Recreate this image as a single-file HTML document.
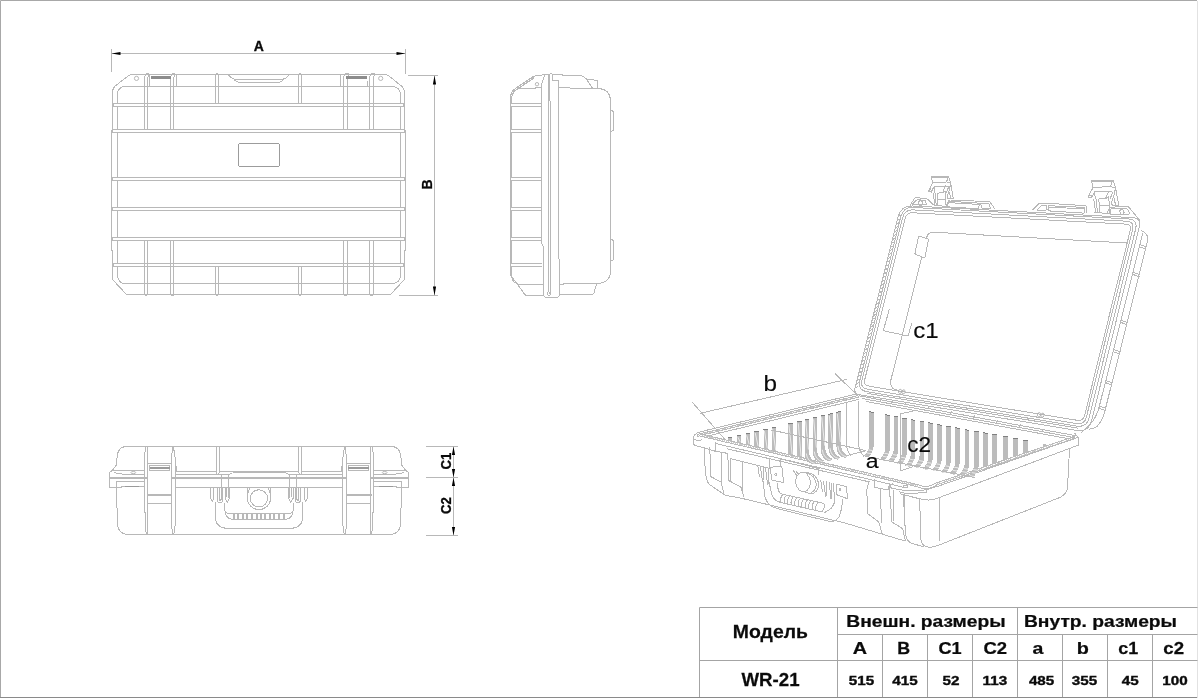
<!DOCTYPE html>
<html><head><meta charset="utf-8"><title>WR-21</title>
<style>
html,body{margin:0;padding:0;background:#fff;}
body{width:1200px;height:698px;overflow:hidden;position:relative;font-family:"Liberation Sans",sans-serif;}
svg{position:absolute;left:0;top:0;will-change:transform;}
svg text{font-family:"Liberation Sans",sans-serif;}
.l{fill:none;stroke:#b8b8b8;stroke-width:1;shape-rendering:crispEdges;}
.d{fill:none;stroke:#b8b8b8;stroke-width:1;shape-rendering:crispEdges;}
.a{fill:#000;stroke:none;}
.r{fill:#bcbcbc;stroke:none;shape-rendering:crispEdges;}
.w{fill:#fff;stroke:#b8b8b8;stroke-width:1;shape-rendering:crispEdges;}
.tb{stroke:#a4a4a4;stroke-width:1;fill:none;}
.t{font-weight:bold;fill:#0a0a0a;}
.d2{fill:none;stroke:#b8b8b8;stroke-width:1;shape-rendering:crispEdges;}
.tt{fill:#0a0a0a;stroke:#0a0a0a;stroke-width:0.15;}
.l2{fill:none;stroke:#b0b0b0;stroke-width:0.9;}
.rl{fill:none;stroke:#b8b8b8;stroke-width:1;shape-rendering:crispEdges;}
.ws{fill:none;stroke:#fff;stroke-width:0.7;}
.cap{fill:none;stroke:#808080;stroke-width:1;shape-rendering:crispEdges;}
.h{fill:none;stroke:#cacaca;stroke-width:1;shape-rendering:crispEdges;}
</style></head><body>
<svg width="1200" height="698" viewBox="0 0 1200 698">
<!-- frame -->
<path d="M0.5 698V0.5H1197" fill="none" stroke="#a8a8a8" stroke-width="1"/>
<path d="M0 697.5H1198" fill="none" stroke="#8a8a8a" stroke-width="1"/>
<path d="M1197.5 1V698" fill="none" stroke="#e2e2e2" stroke-width="1"/>

<!-- top view -->
<path class="l" d="M112.5 93.5 Q112.5 89 114.5 86.5 L128 76 Q130 74.5 132 74.5 H385 Q387 74.5 389 76 L402 86.5 Q404.5 89 404.5 93.5 V130 L405.5 131 V250 L404.5 251 V279.5 L390.5 294.5 H162 L161 294.5 H126.5 L112.5 279.5 V251 L111.5 250 V131 L112.5 130 Z"/>
<path class="l" d="M117.5 103.5 V95 Q117.5 86.5 125.5 86.5 H391.5 Q400.5 86.5 400.5 95 V103.5"/>
<path class="l" d="M117.5 266.5 V274 Q117.5 283.5 125 283.5 H392 Q400.5 283.5 400.5 274 V266.5"/>
<path class="l" d="M117.5 106.5V129.5M400.5 106.5V129.5"/>
<path class="l" d="M117.5 132.5V177.5M400.5 132.5V177.5"/>
<path class="l" d="M117.5 180.5V207.5M400.5 180.5V207.5"/>
<path class="l" d="M117.5 210.5V237.5M400.5 210.5V237.5"/>
<path class="l" d="M117.5 240.5V263.5M400.5 240.5V263.5"/>
<path class="l" d="M114.5 103.5H402.5M114.5 106.5H402.5"/>
<path class="l" d="M114.5 103.5Q113.0 103.5 113.0 105.0 Q113.0 106.5 114.5 106.5M402.5 103.5Q404.0 103.5 404.0 105.0 Q404.0 106.5 402.5 106.5"/>
<path class="l" d="M113.5 129.5H403.5M113.5 132.5H403.5"/>
<path class="l" d="M113.5 129.5Q112.0 129.5 112.0 131.0 Q112.0 132.5 113.5 132.5M403.5 129.5Q405.0 129.5 405.0 131.0 Q405.0 132.5 403.5 132.5"/>
<path class="l" d="M113.5 177.5H403.5M113.5 180.5H403.5"/>
<path class="l" d="M113.5 177.5Q112.0 177.5 112.0 179.0 Q112.0 180.5 113.5 180.5M403.5 177.5Q405.0 177.5 405.0 179.0 Q405.0 180.5 403.5 180.5"/>
<path class="l" d="M113.5 207.5H403.5M113.5 210.5H403.5"/>
<path class="l" d="M113.5 207.5Q112.0 207.5 112.0 209.0 Q112.0 210.5 113.5 210.5M403.5 207.5Q405.0 207.5 405.0 209.0 Q405.0 210.5 403.5 210.5"/>
<path class="l" d="M113.5 237.5H403.5M113.5 240.5H403.5"/>
<path class="l" d="M113.5 237.5Q112.0 237.5 112.0 239.0 Q112.0 240.5 113.5 240.5M403.5 237.5Q405.0 237.5 405.0 239.0 Q405.0 240.5 403.5 240.5"/>
<path class="l" d="M114.5 263.5H402.5M114.5 266.5H402.5"/>
<path class="l" d="M114.5 263.5Q113.0 263.5 113.0 265.0 Q113.0 266.5 114.5 266.5M402.5 263.5Q404.0 263.5 404.0 265.0 Q404.0 266.5 402.5 266.5"/>
<path class="l" d="M144.3 129.5V80 Q144.60000000000002 75 146.3 73.6 Q148.5 73 149.7 75"/>
<path class="l" d="M147.5 129.5V82 Q147.5 77 148.7 75.5"/>
<path class="l" d="M144.3 240.5V293.5Q144.60000000000002 295.6 146.4 295.6Q147.5 295.6 147.5 293.5V240.5"/>
<path class="l" d="M170.5 129.5V80 Q170.8 75 172.5 73.6 Q174.5 73 175.7 75"/>
<path class="l" d="M173.5 129.5V82 Q173.5 77 174.7 75.5"/>
<path class="l" d="M170.5 240.5V293.5Q170.8 295.6 172.5 295.6Q173.5 295.6 173.5 293.5V240.5"/>
<path class="l" d="M343.5 129.5V80 Q343.8 75 345.5 73.6 Q348.5 73 349.7 75"/>
<path class="l" d="M347.5 129.5V82 Q347.5 77 348.7 75.5"/>
<path class="l" d="M343.5 240.5V293.5Q343.8 295.6 346.0 295.6Q347.5 295.6 347.5 293.5V240.5"/>
<path class="l" d="M369.5 129.5V80 Q369.8 75 371.5 73.6 Q374.3 73 375.5 75"/>
<path class="l" d="M373.3 129.5V82 Q373.3 77 374.5 75.5"/>
<path class="l" d="M369.5 240.5V293.5Q369.8 295.6 371.9 295.6Q373.3 295.6 373.3 293.5V240.5"/>
<path class="l" d="M215.5 103.5V76Q215.5 73.6 216.9 73.6Q218.3 73.6 218.3 76V103.5"/>
<path class="l" d="M215.5 266.5V293.5Q215.5 295.6 216.9 295.6Q218.3 295.6 218.3 293.5V266.5"/>
<path class="l" d="M298.5 103.5V76Q298.5 73.6 300.0 73.6Q301.5 73.6 301.5 76V103.5"/>
<path class="l" d="M298.5 266.5V293.5Q298.5 295.6 300.0 295.6Q301.5 295.6 301.5 293.5V266.5"/>
<rect x="151" y="76" width="20" height="3" fill="#8c8c8c" shape-rendering="crispEdges"/>
<rect x="345.5" y="76" width="21.0" height="3" fill="#8c8c8c" shape-rendering="crispEdges"/>
<path class="l" d="M149.5 75V86.5M176.5 75V86.5M340.5 75V86.5M367.5 81V86.5"/>
<circle class="l2" cx="136.5" cy="78.4" r="2.1"/><circle class="l2" cx="380.7" cy="78.4" r="2.1"/>
<path class="l" d="M218.5 74.5H225.5Q227.5 73.8 229 75.5L231.5 77.8Q233 79.2 235 79.2H282.5Q284.5 79.2 286 77.8L288.5 75.5Q290 73.8 292 74.5H298.5"/>
<path class="l" d="M234 79.6Q236.5 82.5 239.5 82.5H278Q281 82.5 283.7 79.6"/>
<rect class="l" style="stroke:#9c9c9c" x="238.5" y="143.5" width="41" height="23" rx="1.6"/>
<path class="d" d="M111.5 49V72M405.5 49V73.5M111.5 53.5H405.5"/>
<path class="a" d="M111.5 53.5L120.5 51.9V55.1ZM405.5 53.5L396.5 51.9V55.1Z"/>
<path class="d" d="M408 75.5H438M399 295.5H438M434.5 75.5V295.5"/>
<path class="a" d="M434.5 75.5L432.9 84.5H436.1ZM434.5 295.5L432.9 286.5H436.1Z"/>
<text class="t" stroke="#0a0a0a" stroke-width="0.3" transform="translate(258.9,51)" font-size="14" text-anchor="middle">A</text>
<text class="t" stroke="#0a0a0a" stroke-width="0.3" transform="translate(432,184.5) rotate(-90)" font-size="14" text-anchor="middle">B</text>
<!-- side view -->
<path class="l" d="M544.8 74.6 L536 75.8 Q534 76 532 77.2 L515 88.8 Q510.5 92 510.5 98 V274.5 Q510.5 275.5 511.5 276.5 L524.5 294 Q525.5 295.5 527.5 295.5 H543"/>
<path class="l" d="M534 78 L516 90 Q512.2 93 511.6 98"/>
<path class="l" d="M516.0 90.1l1.2 -1.6"/>
<path class="l" d="M518.1 88.7l1.2 -1.6"/>
<path class="l" d="M520.2 87.3l1.2 -1.6"/>
<path class="l" d="M522.3 85.8l1.2 -1.6"/>
<path class="l" d="M524.4 84.4l1.2 -1.6"/>
<path class="l" d="M526.5 83.0l1.2 -1.6"/>
<path class="l" d="M528.6 81.6l1.2 -1.6"/>
<path class="l" d="M530.7 80.2l1.2 -1.6"/>
<path class="l" d="M532.8 78.7l1.2 -1.6"/>
<path class="l" d="M511.5 103 V98 Q512.3 88.6 521 88.5 H535 L536 87.5 H541.5"/>
<path class="l" d="M511.5 267 V276 Q512.5 284.3 521 284.5 H543"/>
<path class="l" d="M511 103.5H541.8M511 106.5H541.8M511 103.5Q509.6 105.0 511 106.5"/>
<path class="l" d="M511 129.5H541.8M511 132.5H541.8M511 129.5Q509.6 131.0 511 132.5"/>
<path class="l" d="M511 177.5H541.8M511 180.5H541.8M511 177.5Q509.6 179.0 511 180.5"/>
<path class="l" d="M511 207.5H541.8M511 210.5H541.8M511 207.5Q509.6 209.0 511 210.5"/>
<path class="l" d="M511 237.5H541.8M511 240.5H541.8M511 237.5Q509.6 239.0 511 240.5"/>
<path class="l" d="M511 263.5H541.8M511 266.5H541.8M511 263.5Q509.6 265.0 511 266.5"/>
<path class="l" d="M511.5 106.5V129.5M511.5 132.5V177.5M511.5 180.5V207.5M511.5 210.5V237.5M511.5 240.5V263.5"/>
<circle class="l2" cx="537" cy="84.2" r="1.7"/>
<path class="l" d="M544.8 74.6 L541.5 84.8 V243 L543.2 246 V293.5 Q543.3 297.2 546.5 297.5 H556.5 Q559 297.4 559.3 295 V260 L558.5 258 V81 L558 80.5 H552.6 V74.4"/>
<path class="l" d="M544.8 74.5 H549.4 Q551 72.8 552.6 74.3 H562 L562.4 75.5 H580.5"/>
<path class="l" d="M548.5 74.6 V292 M549.5 74.6 V100.5 M550.6 101 V292"/>
<path class="l" d="M550.6 292 Q551 295.5 548.6 295.3 Q546.8 295 547 293.3 Q547.3 291.6 549 292 Q550 292.6 549.4 293.8"/>
<path class="l" d="M580.5 75.5 Q582 75.6 583.2 76.6 L586 78.5 Q587 79.1 588.5 79.3 L597 80.4 V88.6"/>
<path class="l" d="M558.5 87.5 H569.7 L570.2 88.5 H599 Q610.3 89.5 610.5 101 V271 Q610.3 282.8 598 283.5 H564 L563.5 284.5 H559.2"/>
<path class="l" d="M586 78.6 L592.6 88.4"/>
<path class="l" d="M559.2 294.5 H592 Q593.4 294.4 593.9 293 L596.7 283.7"/>
<path class="l" d="M610.5 110 L613.5 111.5 V130.2 L610.5 131.8 M610.5 239 L613.5 240.5 V259.8 L610.5 261.5"/>
<!-- front view -->
<g>
<path class="l" d="M259.0 446.5 H125.5 Q118.5 447.3 117.4 454.7 L116.2 465.3 L112.7 470 L109.8 472.2 Q109.5 472.5 109.5 473.5 V486.3 Q109.5 487.5 110.7 487.5 H121 L121.6 486.5 H144"/>
<path class="l" d="M112.3 470.5 H144"/>
<path class="l" d="M113.5 472.7 L118 473.2 L124 474.5 H144"/>
<path class="l" d="M109.6 477.5 H148 M109.6 478.5 H148 M171.5 477.5 H259.0 M171.5 478.5 H259.0"/>
<path class="l" d="M144 481.5 H116.5 V507.5 L117.3 508.5 V524 Q118 533.8 127.5 534.5 H259.0"/>
<path d="M124.6 486.5H139.2" stroke="#9a9a9a" stroke-width="1" fill="none" shape-rendering="crispEdges"/>
<ellipse class="l2" cx="133.3" cy="472.6" rx="2.4" ry="1.1"/>
<path class="l" d="M145.9 446.8 Q144.4 453 144.2 460 V511.5 L145.3 513 L146.1 534.5"/>
<path class="l" d="M147.7 446.8 V463.5 L147.3 500 V534.5"/>
<path class="l" d="M145.9 446.8 Q146.8 445.3 147.7 446.8"/>
<path class="l" d="M173.2 446.8 Q175 453 175.3 460 V474.5 L175.2 524.5 L173.8 534.5"/>
<path class="l" d="M172.7 446.8 Q171.6 455 171.4 463.5 V525 L172.7 534.5"/>
<path class="l" d="M172.7 446.8 Q172.9 445.3 173.2 446.8"/>
<path class="l" d="M147.7 463.5 H171.4"/>
<rect class="l" x="149.5" y="465.5" width="20.2" height="5"/>
<rect x="149.5" y="467" width="20.2" height="2" fill="#9a9a9a" shape-rendering="crispEdges"/>
<path class="l" d="M146.5 494.5 H171.3 M146.5 495.5 H171.3 M147.3 503.5 H171.3"/>
<path class="l" d="M176.5 465.7 V471.5 H216.5 M219.1 471.5 H231.5"/>
<path class="l" d="M175.3 474.5 H228 Q230.5 474.3 232.5 472.8"/>
<path class="l" d="M231.5 471.5 H259.0 M232.5 472.5 H259.0"/>
<path class="l" d="M175.3 487.5 H259.0"/>
<path class="l" d="M216.5 446.8 V472.5 Q216.5 474.3 217.8 474.3 Q219.1 474.3 219.1 472.5 V446.8 M216.5 446.8 Q217.8 445.3 219.1 446.8"/>
<path class="l" d="M221.5 474.5 V500 M228.5 474.5 V498"/>
<path class="l" d="M210.6 487.5 V498 L212.3 501.5 L213.7 498 V487.5"/>
<path class="l" d="M217.6 487.5 V500.5 Q217.8 503 220 503 Q222.3 503 222.5 500.5 V487.5"/>
<path class="l" d="M219.2 487.5 V499.5 Q219.4 501 220 501 Q220.7 501 220.8 499.5"/>
<path class="l" d="M225 487.5 V498.5 L227.4 502 L229.5 498.5 V487.5"/>
<path class="l" d="M226.6 487.5 V497"/>
<path class="l" d="M215.5 502 V518.5 Q216 527.8 227.5 528.5 H259.0"/>
<path class="l" d="M224.5 503 V509.5 Q224.8 512.8 229 513.5 H259.0"/>
<path class="l" d="M225 510.8 Q226 519 232.5 519.5 H259.0"/>
<path class="l" d="M247.5 487.5 V498.5 A11.5 11.2 0 0 0 259.0 509.6"/>
<path class="l" d="M259.0 489.8 A8.6 8.6 0 0 0 259.0 507"/>
<path class="l" d="M247.5 497 Q247.9 491 250 488.3"/>
</g>
<g transform="translate(518.0,0) scale(-1,1)">
<path class="l" d="M259.0 446.5 H125.5 Q118.5 447.3 117.4 454.7 L116.2 465.3 L112.7 470 L109.8 472.2 Q109.5 472.5 109.5 473.5 V486.3 Q109.5 487.5 110.7 487.5 H121 L121.6 486.5 H144"/>
<path class="l" d="M112.3 470.5 H144"/>
<path class="l" d="M113.5 472.7 L118 473.2 L124 474.5 H144"/>
<path class="l" d="M109.6 477.5 H148 M109.6 478.5 H148 M171.5 477.5 H259.0 M171.5 478.5 H259.0"/>
<path class="l" d="M144 481.5 H116.5 V507.5 L117.3 508.5 V524 Q118 533.8 127.5 534.5 H259.0"/>
<path d="M124.6 486.5H139.2" stroke="#9a9a9a" stroke-width="1" fill="none" shape-rendering="crispEdges"/>
<ellipse class="l2" cx="133.3" cy="472.6" rx="2.4" ry="1.1"/>
<path class="l" d="M145.9 446.8 Q144.4 453 144.2 460 V511.5 L145.3 513 L146.1 534.5"/>
<path class="l" d="M147.7 446.8 V463.5 L147.3 500 V534.5"/>
<path class="l" d="M145.9 446.8 Q146.8 445.3 147.7 446.8"/>
<path class="l" d="M173.2 446.8 Q175 453 175.3 460 V474.5 L175.2 524.5 L173.8 534.5"/>
<path class="l" d="M172.7 446.8 Q171.6 455 171.4 463.5 V525 L172.7 534.5"/>
<path class="l" d="M172.7 446.8 Q172.9 445.3 173.2 446.8"/>
<path class="l" d="M147.7 463.5 H171.4"/>
<rect class="l" x="149.5" y="465.5" width="20.2" height="5"/>
<rect x="149.5" y="467" width="20.2" height="2" fill="#9a9a9a" shape-rendering="crispEdges"/>
<path class="l" d="M146.5 494.5 H171.3 M146.5 495.5 H171.3 M147.3 503.5 H171.3"/>
<path class="l" d="M176.5 465.7 V471.5 H216.5 M219.1 471.5 H231.5"/>
<path class="l" d="M175.3 474.5 H228 Q230.5 474.3 232.5 472.8"/>
<path class="l" d="M231.5 471.5 H259.0 M232.5 472.5 H259.0"/>
<path class="l" d="M175.3 487.5 H259.0"/>
<path class="l" d="M216.5 446.8 V472.5 Q216.5 474.3 217.8 474.3 Q219.1 474.3 219.1 472.5 V446.8 M216.5 446.8 Q217.8 445.3 219.1 446.8"/>
<path class="l" d="M221.5 474.5 V500 M228.5 474.5 V498"/>
<path class="l" d="M210.6 487.5 V498 L212.3 501.5 L213.7 498 V487.5"/>
<path class="l" d="M217.6 487.5 V500.5 Q217.8 503 220 503 Q222.3 503 222.5 500.5 V487.5"/>
<path class="l" d="M219.2 487.5 V499.5 Q219.4 501 220 501 Q220.7 501 220.8 499.5"/>
<path class="l" d="M225 487.5 V498.5 L227.4 502 L229.5 498.5 V487.5"/>
<path class="l" d="M226.6 487.5 V497"/>
<path class="l" d="M215.5 502 V518.5 Q216 527.8 227.5 528.5 H259.0"/>
<path class="l" d="M224.5 503 V509.5 Q224.8 512.8 229 513.5 H259.0"/>
<path class="l" d="M225 510.8 Q226 519 232.5 519.5 H259.0"/>
<path class="l" d="M247.5 487.5 V498.5 A11.5 11.2 0 0 0 259.0 509.6"/>
<path class="l" d="M259.0 489.8 A8.6 8.6 0 0 0 259.0 507"/>
<path class="l" d="M247.5 497 Q247.9 491 250 488.3"/>
</g>
<path class="l" d="M233.5 514V519M234.5 514V519"/>
<path class="l" d="M237.5 514V519M238.5 514V519"/>
<path class="l" d="M242.5 514V519M243.5 514V519"/>
<path class="l" d="M246.5 514V519M247.5 514V519"/>
<path class="l" d="M251.5 514V519M252.5 514V519"/>
<path class="l" d="M256.5 514V519M257.5 514V519"/>
<path class="l" d="M260.5 514V519M261.5 514V519"/>
<path class="l" d="M264.5 514V519M265.5 514V519"/>
<path class="l" d="M269.5 514V519M270.5 514V519"/>
<path class="l" d="M273.5 514V519M274.5 514V519"/>
<path class="l" d="M278.5 514V519M279.5 514V519"/>
<path class="l" d="M283.5 514V519M284.5 514V519"/>
<path class="d" d="M426 446.5H458M426 477.5H458M426 535.5H458M453.5 446.5V535.5"/>
<path class="a" d="M453.5 446.5l-1.6 8.5h3.2zM453.5 477.5l-1.6 -8.5h3.2zM453.5 477.5l-1.6 8.5h3.2zM453.5 535.5l-1.6 -8.5h3.2z"/>
<text class="t" stroke="#0a0a0a" stroke-width="0.3" transform="translate(451.3,461) rotate(-90) scale(0.94,1)" font-size="14" text-anchor="middle">C1</text>
<text class="t" stroke="#0a0a0a" stroke-width="0.3" transform="translate(451.3,505.6) rotate(-90) scale(0.94,1)" font-size="14" text-anchor="middle">C2</text>
<!-- isometric view -->
<path class="l" d="M905.2 218.3 Q906.7 212.5 912.7 212.8 L1125.7 224.1 Q1131.7 224.4 1130.3 230.2 L1084.6 415.5 Q1083.2 421.3 1077.3 420.3 L869.2 386.2 Q863.3 385.2 864.8 379.4 Z"/>
<path class="l" d="M902.8 217.3 Q904.8 209.5 912.8 209.9 L1126.6 221.2 Q1134.5 221.6 1132.6 229.4 L1086.4 417.1 Q1084.5 424.9 1076.6 423.6 L867.8 389.3 Q859.9 388.0 861.9 380.2 Z"/>
<path class="l" d="M900.9 216.7 Q903.3 207.0 913.3 207.5 L1128.0 218.9 Q1138.0 219.4 1135.6 229.1 L1089.1 418.0 Q1086.7 427.7 1076.8 426.1 L867.2 391.7 Q857.3 390.1 859.8 380.4 Z"/>
<path class="l" d="M866.9 393.4 L1078.2 428.2"/>
<path class="l" d="M898.0 217.0 Q901.0 205.4 912.9 206.0 L1132.5 217.6 Q1141.5 218.1 1139.3 226.8 L1091.6 420.7 Q1088.7 432.3 1076.9 430.4 L859.5 394.7 Q853.6 393.7 855.1 387.9 Z"/>
<path class="l" d="M855.0 388.1l2.9 -1.6"/>
<path class="l" d="M856.0 384.3l2.9 -1.6"/>
<path class="l" d="M857.0 380.5l2.9 -1.6"/>
<path class="l" d="M857.9 376.7l2.9 -1.6"/>
<path class="l" d="M858.9 372.9l2.9 -1.6"/>
<path class="l" d="M859.8 369.1l2.9 -1.6"/>
<path class="l" d="M860.8 365.2l2.9 -1.6"/>
<path class="l" d="M861.7 361.4l2.9 -1.6"/>
<path class="l" d="M862.7 357.6l2.9 -1.6"/>
<path class="l" d="M863.7 353.8l2.9 -1.6"/>
<path class="l" d="M864.6 350.0l2.9 -1.6"/>
<path class="l" d="M865.6 346.2l2.9 -1.6"/>
<path class="l" d="M866.5 342.4l2.9 -1.6"/>
<path class="l" d="M867.5 338.6l2.9 -1.6"/>
<path class="l" d="M868.4 334.8l2.9 -1.6"/>
<path class="l" d="M869.4 331.0l2.9 -1.6"/>
<path class="l" d="M870.4 327.2l2.9 -1.6"/>
<path class="l" d="M871.3 323.4l2.9 -1.6"/>
<path class="l" d="M872.3 319.5l2.9 -1.6"/>
<path class="l" d="M873.2 315.7l2.9 -1.6"/>
<path class="l" d="M874.2 311.9l2.9 -1.6"/>
<path class="l" d="M875.1 308.1l2.9 -1.6"/>
<path class="l" d="M876.1 304.3l2.9 -1.6"/>
<path class="l" d="M877.1 300.5l2.9 -1.6"/>
<path class="l" d="M878.0 296.7l2.9 -1.6"/>
<path class="l" d="M879.0 292.9l2.9 -1.6"/>
<path class="l" d="M879.9 289.1l2.9 -1.6"/>
<path class="l" d="M880.9 285.3l2.9 -1.6"/>
<path class="l" d="M881.8 281.5l2.9 -1.6"/>
<path class="l" d="M882.8 277.7l2.9 -1.6"/>
<path class="l" d="M883.8 273.9l2.9 -1.6"/>
<path class="l" d="M884.7 270.0l2.9 -1.6"/>
<path class="l" d="M885.7 266.2l2.9 -1.6"/>
<path class="l" d="M886.6 262.4l2.9 -1.6"/>
<path class="l" d="M887.6 258.6l2.9 -1.6"/>
<path class="l" d="M888.5 254.8l2.9 -1.6"/>
<path class="l" d="M889.5 251.0l2.9 -1.6"/>
<path class="l" d="M890.5 247.2l2.9 -1.6"/>
<path class="l" d="M891.4 243.4l2.9 -1.6"/>
<path class="l" d="M892.4 239.6l2.9 -1.6"/>
<path class="l" d="M893.3 235.8l2.9 -1.6"/>
<path class="l" d="M894.3 232.0l2.9 -1.6"/>
<path class="l" d="M895.2 228.2l2.9 -1.6"/>
<path class="l" d="M896.2 224.3l2.9 -1.6"/>
<path class="l" d="M897.2 220.5l2.9 -1.6"/>
<path class="l" d="M898.1 216.7l2.9 -1.6"/>
<path class="l" d="M1142.8 233 L1098.4 410 Q1094.5 420 1091.3 422.7 L1080.7 433.3"/>
<path class="l" d="M1141.3 230.5 Q1147.5 233 1148 239 L1104.4 413 Q1101 423 1096.7 426.7 Q1093 429 1088.7 429.3"/>
<path class="l" d="M1139.7 244.6l7.2 2.4M1139.2 246.6l7.2 2.6"/>
<path class="l" d="M1132.8 272.2l7.2 2.4M1132.3 274.2l7.2 2.6"/>
<path class="l" d="M1120.7 320.2l7.2 2.4M1120.2 322.2l7.2 2.6"/>
<path class="l" d="M1113.4 349.5l7.2 2.4M1112.9 351.5l7.2 2.6"/>
<path class="l" d="M1105.6 380.5l7.2 2.4M1105.1 382.5l7.2 2.6"/>
<path class="l" d="M1099.2 406.2l7.2 2.4M1098.7 408.2l7.2 2.6"/>
<path class="l" d="M1126.7 243 L935 232.3 Q928.2 231.8 927 236.5 L890.9 380 Q889.8 387.5 894.7 389.3 L899 390.6"/>
<path class="w" d="M918.4 237.2 Q918.7 236.0 919.8 236.4 L927.6 238.9 Q928.7 239.3 928.4 240.5 L925.0 256.8 Q924.7 258.0 923.6 257.6 L915.8 254.4 Q914.7 254.0 915.0 252.8 Z"/>
<path class="d2" d="M889.3 309.3 L883.3 330.7 L908 336 L912 322.7"/>
<text class="tt" transform="translate(913.2,338) scale(1.07,1)" font-size="22.5">c1</text>
<path class="l" d="M910 205.5 L914.3 198.6 Q915 197.6 916.3 197.7 L926 198.6 Q927.2 198.8 928 199.7 L931.3 202.8 L933.5 205"/>
<path class="l" d="M913.2 204.3 Q912.2 204.3 912.9 203.6 L916.2 200.4 Q916.9 199.7 917.9 199.8 L924.3 200.2 Q925.3 200.3 925.6 201.3 L926.3 203.9 Q926.6 204.9 925.6 204.9 Z"/>
<ellipse class="l" cx="920.6" cy="203" rx="1.9" ry="2.3"/>
<path class="l" d="M946 206.5 L948.6 200.8 Q949 199.9 950.2 200 L988.8 201.6 Q990 201.7 990.6 202.8 L994.8 208.9"/>
<path class="l" d="M947.7 206.9 Q946.9 206.8 947.2 206.0 L948.6 202.0 Q948.9 201.2 949.7 201.3 L978.5 203.1 Q979.3 203.2 979.2 204.0 L978.7 208.0 Q978.6 208.8 977.8 208.7 Z"/>
<path class="l" d="M948.6 202.6 L979 204.4"/>
<path class="l" d="M980.9 203.9 Q980.8 203.3 981.4 203.3 L988.6 204.0 Q989.2 204.0 989.4 204.6 L990.4 208.1 Q990.6 208.7 990.0 208.7 L982.0 208.1 Q981.4 208.1 981.3 207.5 Z"/>
<path class="l" d="M1032 210.3 L1038.4 204 Q1039.2 203.2 1040.3 203.2 L1050 203.4 L1085.2 205.7 Q1086.3 205.8 1086.4 207 L1086.8 212.8"/>
<path class="l" d="M1037.2 210.1 Q1036.6 210.1 1037.0 209.7 L1041.0 206.1 Q1041.4 205.7 1042.0 205.7 L1046.2 205.8 Q1046.8 205.8 1046.7 206.4 L1046.1 210.2 Q1046.0 210.8 1045.4 210.8 Z"/>
<path class="l" d="M1048.1 206.5 Q1048.1 205.7 1048.9 205.7 L1083.9 207.4 Q1084.7 207.4 1084.6 208.2 L1084.1 212.4 Q1084.0 213.2 1083.2 213.1 L1048.8 210.9 Q1048.0 210.8 1048.0 210.0 Z"/>
<path class="l" d="M1048.3 207 L1084.5 209"/>
<path class="l" d="M1106.6 213.4 L1110.2 207.8 Q1110.8 207.2 1111.8 207.2 L1127 206.3 Q1128.3 206.3 1129 207.3 L1140 220.6"/>
<path class="l" d="M1110.7 209.8 Q1110.8 208.8 1111.8 208.7 L1125.6 208.1 Q1126.6 208.0 1127.1 208.9 L1128.9 211.7 Q1129.4 212.6 1129.1 213.5 L1128.9 213.9 Q1128.6 214.8 1127.6 214.8 L1111.0 214.1 Q1110.0 214.1 1110.1 213.1 Z"/>
<ellipse class="l" cx="1122" cy="212" rx="2" ry="2.5" transform="rotate(-20 1122 212)"/>
<path class="l" d="M931.3 176.4 L948.7 176.4"/>
<path class="l" d="M931.4 177.5 L948.8 177.5"/>
<path class="l" d="M931.3 176.6 L932.7 182.7 L946.7 182.0 L947.8 176.6"/>
<path class="l" d="M948.7 176.6 L950.7 183.3 L953.3 198.7"/>
<path class="l" d="M932.7 182.7 L928.7 191.3 L931.3 192.0 L934.0 186.7 L945.3 186.0 L942.7 192.7 L937.5 193.2"/>
<path class="l" d="M929.5 189.6 L932.4 190.4"/>
<path class="l" d="M946.7 182.0 L950.7 183.3 L949.3 190.0 L947.3 196.7"/>
<path class="l" d="M945.3 186.0 L948.6 187.0 L946.3 193.0"/>
<path class="l" d="M934.0 186.7 L934.4 193.0"/>
<path class="l" d="M933.3 193.3 L934.7 204.7"/>
<path class="l" d="M935.3 193.3 L936.2 205.0"/>
<path class="l" d="M937.3 193.3 L938.0 205.3"/>
<path class="l" d="M942.7 192.7 L945.3 191.3 L946.0 205.3"/>
<path class="l" d="M938.0 199.5 L945.7 199.2"/>
<path class="l" d="M949.6 192.0 L950.6 198.4"/>
<path class="l" d="M947.3 196.7 L948.0 198.6 L953.3 198.7"/>
<path class="l" d="M933.5 205.0 L946.0 206.5"/>
<path class="l" d="M1091.3 180.4 L1113.1 180.4"/>
<path class="l" d="M1091.4 181.6 L1113.2 181.6"/>
<path class="l" d="M1091.3 180.6 L1093.1 187.4 L1110.6 186.6 L1111.9 180.6"/>
<path class="l" d="M1113.1 180.6 L1115.6 188.1 L1118.8 205.2"/>
<path class="l" d="M1093.1 187.4 L1088.1 196.9 L1091.3 197.7 L1094.7 191.8 L1108.8 191.1 L1105.6 198.5 L1099.0 199.0"/>
<path class="l" d="M1089.0 195.1 L1092.7 195.9"/>
<path class="l" d="M1110.6 186.6 L1115.6 188.1 L1113.8 195.5 L1111.3 202.9"/>
<path class="l" d="M1108.8 191.1 L1112.9 192.2 L1110.0 198.8"/>
<path class="l" d="M1094.7 191.8 L1095.2 198.8"/>
<path class="l" d="M1093.8 199.2 L1095.6 211.8"/>
<path class="l" d="M1096.3 199.2 L1097.4 212.1"/>
<path class="l" d="M1098.8 199.2 L1099.7 212.5"/>
<path class="l" d="M1105.6 198.5 L1108.8 196.9 L1109.7 212.5"/>
<path class="l" d="M1099.7 206.0 L1109.3 205.7"/>
<path class="l" d="M1114.2 197.7 L1115.4 204.8"/>
<path class="l" d="M1111.3 202.9 L1112.2 205.0 L1118.8 205.2"/>
<path class="l" d="M1094.0 212.1 L1109.7 213.8"/>
<path class="l" d="M703.8 430.9 L857.5 393.7"/>
<path class="l" d="M703.0 433.1 L858.0 395.5"/>
<path class="l" d="M703.5 434.7 L858.5 397.1"/>
<path class="l" d="M706.0 436.4 L859.0 399.3"/>
<path class="h" d="M704.0 433.1 l1.6 1.0"/>
<path class="h" d="M706.5 432.5 l1.6 1.0"/>
<path class="h" d="M709.1 431.9 l1.6 1.0"/>
<path class="h" d="M711.6 431.2 l1.6 1.0"/>
<path class="h" d="M714.2 430.6 l1.6 1.0"/>
<path class="h" d="M716.8 430.0 l1.6 1.0"/>
<path class="h" d="M719.3 429.4 l1.6 1.0"/>
<path class="h" d="M721.9 428.8 l1.6 1.0"/>
<path class="h" d="M724.4 428.1 l1.6 1.0"/>
<path class="h" d="M727.0 427.5 l1.6 1.0"/>
<path class="h" d="M729.5 426.9 l1.6 1.0"/>
<path class="h" d="M732.0 426.3 l1.6 1.0"/>
<path class="h" d="M734.6 425.7 l1.6 1.0"/>
<path class="h" d="M737.1 425.0 l1.6 1.0"/>
<path class="h" d="M739.7 424.4 l1.6 1.0"/>
<path class="h" d="M742.2 423.8 l1.6 1.0"/>
<path class="h" d="M744.8 423.2 l1.6 1.0"/>
<path class="h" d="M747.4 422.6 l1.6 1.0"/>
<path class="h" d="M749.9 422.0 l1.6 1.0"/>
<path class="h" d="M752.5 421.3 l1.6 1.0"/>
<path class="h" d="M755.0 420.7 l1.6 1.0"/>
<path class="h" d="M757.5 420.1 l1.6 1.0"/>
<path class="h" d="M760.1 419.5 l1.6 1.0"/>
<path class="h" d="M762.6 418.9 l1.6 1.0"/>
<path class="h" d="M765.2 418.2 l1.6 1.0"/>
<path class="h" d="M767.8 417.6 l1.6 1.0"/>
<path class="h" d="M770.3 417.0 l1.6 1.0"/>
<path class="h" d="M772.9 416.4 l1.6 1.0"/>
<path class="h" d="M775.4 415.8 l1.6 1.0"/>
<path class="h" d="M778.0 415.2 l1.6 1.0"/>
<path class="h" d="M780.5 414.5 l1.6 1.0"/>
<path class="h" d="M783.0 413.9 l1.6 1.0"/>
<path class="h" d="M785.6 413.3 l1.6 1.0"/>
<path class="h" d="M788.1 412.7 l1.6 1.0"/>
<path class="h" d="M790.7 412.1 l1.6 1.0"/>
<path class="h" d="M793.2 411.4 l1.6 1.0"/>
<path class="h" d="M795.8 410.8 l1.6 1.0"/>
<path class="h" d="M798.4 410.2 l1.6 1.0"/>
<path class="h" d="M800.9 409.6 l1.6 1.0"/>
<path class="h" d="M803.5 409.0 l1.6 1.0"/>
<path class="h" d="M806.0 408.4 l1.6 1.0"/>
<path class="h" d="M808.5 407.7 l1.6 1.0"/>
<path class="h" d="M811.1 407.1 l1.6 1.0"/>
<path class="h" d="M813.6 406.5 l1.6 1.0"/>
<path class="h" d="M816.2 405.9 l1.6 1.0"/>
<path class="h" d="M818.8 405.3 l1.6 1.0"/>
<path class="h" d="M821.3 404.6 l1.6 1.0"/>
<path class="h" d="M823.9 404.0 l1.6 1.0"/>
<path class="h" d="M826.4 403.4 l1.6 1.0"/>
<path class="h" d="M829.0 402.8 l1.6 1.0"/>
<path class="h" d="M831.5 402.2 l1.6 1.0"/>
<path class="h" d="M834.0 401.6 l1.6 1.0"/>
<path class="h" d="M836.6 400.9 l1.6 1.0"/>
<path class="h" d="M839.1 400.3 l1.6 1.0"/>
<path class="h" d="M841.7 399.7 l1.6 1.0"/>
<path class="h" d="M844.2 399.1 l1.6 1.0"/>
<path class="h" d="M846.8 398.5 l1.6 1.0"/>
<path class="h" d="M849.4 397.8 l1.6 1.0"/>
<path class="h" d="M851.9 397.2 l1.6 1.0"/>
<path class="h" d="M854.5 396.6 l1.6 1.0"/>
<path class="l" d="M703.8 431.3 Q696 432.3 693.6 436.2 V443.3 Q693.9 445.4 697 446.1 L704.3 447.9"/>
<path class="l" d="M703 433.3 Q698.6 433.6 697.2 435.2 Q696.6 436.6 698.6 437 L700.5 434"/>
<path class="l" d="M694 439.7 L700 440.5 M698 440.5 l4 -0.6"/>
<path class="l" d="M700.5 434.0 L918.0 484.7"/>
<path class="l" d="M700.5 436.2 L918.0 486.9"/>
<path class="h" d="M701.6 434.5 l1.0 1.8"/>
<path class="h" d="M703.8 435.0 l1.0 1.8"/>
<path class="h" d="M706.0 435.5 l1.0 1.8"/>
<path class="h" d="M708.3 436.0 l1.0 1.8"/>
<path class="h" d="M710.5 436.5 l1.0 1.8"/>
<path class="h" d="M712.7 437.0 l1.0 1.8"/>
<path class="h" d="M714.9 437.6 l1.0 1.8"/>
<path class="h" d="M717.1 438.1 l1.0 1.8"/>
<path class="h" d="M719.4 438.6 l1.0 1.8"/>
<path class="h" d="M721.6 439.1 l1.0 1.8"/>
<path class="h" d="M723.8 439.6 l1.0 1.8"/>
<path class="h" d="M726.0 440.1 l1.0 1.8"/>
<path class="h" d="M728.2 440.7 l1.0 1.8"/>
<path class="h" d="M730.5 441.2 l1.0 1.8"/>
<path class="h" d="M732.7 441.7 l1.0 1.8"/>
<path class="h" d="M734.9 442.2 l1.0 1.8"/>
<path class="h" d="M737.1 442.7 l1.0 1.8"/>
<path class="h" d="M739.3 443.2 l1.0 1.8"/>
<path class="h" d="M741.6 443.8 l1.0 1.8"/>
<path class="h" d="M743.8 444.3 l1.0 1.8"/>
<path class="h" d="M746.0 444.8 l1.0 1.8"/>
<path class="h" d="M748.2 445.3 l1.0 1.8"/>
<path class="h" d="M750.4 445.8 l1.0 1.8"/>
<path class="h" d="M752.7 446.4 l1.0 1.8"/>
<path class="h" d="M754.9 446.9 l1.0 1.8"/>
<path class="h" d="M757.1 447.4 l1.0 1.8"/>
<path class="h" d="M759.3 447.9 l1.0 1.8"/>
<path class="h" d="M761.5 448.4 l1.0 1.8"/>
<path class="h" d="M763.8 448.9 l1.0 1.8"/>
<path class="h" d="M766.0 449.5 l1.0 1.8"/>
<path class="h" d="M768.2 450.0 l1.0 1.8"/>
<path class="h" d="M770.4 450.5 l1.0 1.8"/>
<path class="h" d="M772.6 451.0 l1.0 1.8"/>
<path class="h" d="M774.8 451.5 l1.0 1.8"/>
<path class="h" d="M777.1 452.0 l1.0 1.8"/>
<path class="h" d="M779.3 452.6 l1.0 1.8"/>
<path class="h" d="M781.5 453.1 l1.0 1.8"/>
<path class="h" d="M783.7 453.6 l1.0 1.8"/>
<path class="h" d="M785.9 454.1 l1.0 1.8"/>
<path class="h" d="M788.2 454.6 l1.0 1.8"/>
<path class="h" d="M790.4 455.1 l1.0 1.8"/>
<path class="h" d="M792.6 455.7 l1.0 1.8"/>
<path class="h" d="M794.8 456.2 l1.0 1.8"/>
<path class="h" d="M797.0 456.7 l1.0 1.8"/>
<path class="h" d="M799.3 457.2 l1.0 1.8"/>
<path class="h" d="M801.5 457.7 l1.0 1.8"/>
<path class="h" d="M803.7 458.2 l1.0 1.8"/>
<path class="h" d="M805.9 458.8 l1.0 1.8"/>
<path class="h" d="M808.1 459.3 l1.0 1.8"/>
<path class="h" d="M810.4 459.8 l1.0 1.8"/>
<path class="h" d="M812.6 460.3 l1.0 1.8"/>
<path class="h" d="M814.8 460.8 l1.0 1.8"/>
<path class="h" d="M817.0 461.3 l1.0 1.8"/>
<path class="h" d="M819.2 461.9 l1.0 1.8"/>
<path class="h" d="M821.5 462.4 l1.0 1.8"/>
<path class="h" d="M823.7 462.9 l1.0 1.8"/>
<path class="h" d="M825.9 463.4 l1.0 1.8"/>
<path class="h" d="M828.1 463.9 l1.0 1.8"/>
<path class="h" d="M830.3 464.5 l1.0 1.8"/>
<path class="h" d="M832.6 465.0 l1.0 1.8"/>
<path class="h" d="M834.8 465.5 l1.0 1.8"/>
<path class="h" d="M837.0 466.0 l1.0 1.8"/>
<path class="h" d="M839.2 466.5 l1.0 1.8"/>
<path class="h" d="M841.4 467.0 l1.0 1.8"/>
<path class="h" d="M843.7 467.6 l1.0 1.8"/>
<path class="h" d="M845.9 468.1 l1.0 1.8"/>
<path class="h" d="M848.1 468.6 l1.0 1.8"/>
<path class="h" d="M850.3 469.1 l1.0 1.8"/>
<path class="h" d="M852.5 469.6 l1.0 1.8"/>
<path class="h" d="M854.7 470.1 l1.0 1.8"/>
<path class="h" d="M857.0 470.7 l1.0 1.8"/>
<path class="h" d="M859.2 471.2 l1.0 1.8"/>
<path class="h" d="M861.4 471.7 l1.0 1.8"/>
<path class="h" d="M863.6 472.2 l1.0 1.8"/>
<path class="h" d="M865.8 472.7 l1.0 1.8"/>
<path class="h" d="M868.1 473.2 l1.0 1.8"/>
<path class="h" d="M870.3 473.8 l1.0 1.8"/>
<path class="h" d="M872.5 474.3 l1.0 1.8"/>
<path class="h" d="M874.7 474.8 l1.0 1.8"/>
<path class="h" d="M876.9 475.3 l1.0 1.8"/>
<path class="h" d="M879.2 475.8 l1.0 1.8"/>
<path class="h" d="M881.4 476.3 l1.0 1.8"/>
<path class="h" d="M883.6 476.9 l1.0 1.8"/>
<path class="h" d="M885.8 477.4 l1.0 1.8"/>
<path class="h" d="M888.0 477.9 l1.0 1.8"/>
<path class="h" d="M890.3 478.4 l1.0 1.8"/>
<path class="h" d="M892.5 478.9 l1.0 1.8"/>
<path class="h" d="M894.7 479.4 l1.0 1.8"/>
<path class="h" d="M896.9 480.0 l1.0 1.8"/>
<path class="h" d="M899.1 480.5 l1.0 1.8"/>
<path class="h" d="M901.4 481.0 l1.0 1.8"/>
<path class="h" d="M903.6 481.5 l1.0 1.8"/>
<path class="h" d="M905.8 482.0 l1.0 1.8"/>
<path class="h" d="M908.0 482.6 l1.0 1.8"/>
<path class="h" d="M910.2 483.1 l1.0 1.8"/>
<path class="h" d="M912.5 483.6 l1.0 1.8"/>
<path class="h" d="M914.7 484.1 l1.0 1.8"/>
<path class="h" d="M916.9 484.6 l1.0 1.8"/>
<path class="l" d="M714.7 443.3 L905.0 487.6"/>
<path class="l" d="M727.0 448.8 L869.3 481.9"/>
<path class="l" d="M704.3 447.9 L715.5 451.3 L727.2 453.3"/>
<path class="l" d="M715.5 442 V451.3"/>
<path class="l" d="M918 484.7 Q927 489 936 483.1"/>
<path class="l" d="M918 486.9 Q927 491.2 936.5 485.2"/>
<path class="l" d="M936.0 483.1 L1073.5 436.7"/>
<path class="l" d="M936.0 485.1 L1073.5 438.7"/>
<path class="h" d="M937.1 483.0 l1.0 1.6"/>
<path class="h" d="M939.3 482.2 l1.0 1.6"/>
<path class="h" d="M941.5 481.5 l1.0 1.6"/>
<path class="h" d="M943.8 480.7 l1.0 1.6"/>
<path class="h" d="M946.0 480.0 l1.0 1.6"/>
<path class="h" d="M948.2 479.2 l1.0 1.6"/>
<path class="h" d="M950.4 478.5 l1.0 1.6"/>
<path class="h" d="M952.6 477.7 l1.0 1.6"/>
<path class="h" d="M954.9 477.0 l1.0 1.6"/>
<path class="h" d="M957.1 476.2 l1.0 1.6"/>
<path class="h" d="M959.3 475.5 l1.0 1.6"/>
<path class="h" d="M961.5 474.7 l1.0 1.6"/>
<path class="h" d="M963.7 474.0 l1.0 1.6"/>
<path class="h" d="M965.9 473.2 l1.0 1.6"/>
<path class="h" d="M968.2 472.5 l1.0 1.6"/>
<path class="h" d="M970.4 471.7 l1.0 1.6"/>
<path class="h" d="M972.6 471.0 l1.0 1.6"/>
<path class="h" d="M974.8 470.2 l1.0 1.6"/>
<path class="h" d="M977.0 469.5 l1.0 1.6"/>
<path class="h" d="M979.2 468.7 l1.0 1.6"/>
<path class="h" d="M981.5 468.0 l1.0 1.6"/>
<path class="h" d="M983.7 467.2 l1.0 1.6"/>
<path class="h" d="M985.9 466.5 l1.0 1.6"/>
<path class="h" d="M988.1 465.7 l1.0 1.6"/>
<path class="h" d="M990.3 465.0 l1.0 1.6"/>
<path class="h" d="M992.6 464.2 l1.0 1.6"/>
<path class="h" d="M994.8 463.5 l1.0 1.6"/>
<path class="h" d="M997.0 462.7 l1.0 1.6"/>
<path class="h" d="M999.2 462.0 l1.0 1.6"/>
<path class="h" d="M1001.4 461.2 l1.0 1.6"/>
<path class="h" d="M1003.6 460.5 l1.0 1.6"/>
<path class="h" d="M1005.9 459.7 l1.0 1.6"/>
<path class="h" d="M1008.1 459.0 l1.0 1.6"/>
<path class="h" d="M1010.3 458.2 l1.0 1.6"/>
<path class="h" d="M1012.5 457.5 l1.0 1.6"/>
<path class="h" d="M1014.7 456.7 l1.0 1.6"/>
<path class="h" d="M1016.9 456.0 l1.0 1.6"/>
<path class="h" d="M1019.2 455.2 l1.0 1.6"/>
<path class="h" d="M1021.4 454.5 l1.0 1.6"/>
<path class="h" d="M1023.6 453.7 l1.0 1.6"/>
<path class="h" d="M1025.8 453.0 l1.0 1.6"/>
<path class="h" d="M1028.0 452.2 l1.0 1.6"/>
<path class="h" d="M1030.3 451.5 l1.0 1.6"/>
<path class="h" d="M1032.5 450.7 l1.0 1.6"/>
<path class="h" d="M1034.7 450.0 l1.0 1.6"/>
<path class="h" d="M1036.9 449.2 l1.0 1.6"/>
<path class="h" d="M1039.1 448.5 l1.0 1.6"/>
<path class="h" d="M1041.3 447.7 l1.0 1.6"/>
<path class="h" d="M1043.6 447.0 l1.0 1.6"/>
<path class="h" d="M1045.8 446.2 l1.0 1.6"/>
<path class="h" d="M1048.0 445.5 l1.0 1.6"/>
<path class="h" d="M1050.2 444.7 l1.0 1.6"/>
<path class="h" d="M1052.4 444.0 l1.0 1.6"/>
<path class="h" d="M1054.6 443.2 l1.0 1.6"/>
<path class="h" d="M1056.9 442.5 l1.0 1.6"/>
<path class="h" d="M1059.1 441.7 l1.0 1.6"/>
<path class="h" d="M1061.3 441.0 l1.0 1.6"/>
<path class="h" d="M1063.5 440.2 l1.0 1.6"/>
<path class="h" d="M1065.7 439.5 l1.0 1.6"/>
<path class="h" d="M1068.0 438.7 l1.0 1.6"/>
<path class="h" d="M1070.2 438.0 l1.0 1.6"/>
<path class="h" d="M1072.4 437.2 l1.0 1.6"/>
<path class="l" d="M889.2 485.8 L892.2 484 M889.2 485.8 L891.7 488.3 L906.7 490.8 Q917 491.5 926.7 489.6 L938.1 486.2 L1078.5 437.2"/>
<path class="l" d="M899.2 491.7 L906.7 493.8 L926 492.4 V489.8"/>
<path class="l" d="M900 493.8 L919.6 498.8 Q927 500.8 933.3 499.6 L939.2 497.6 L1078.6 445"/>
<ellipse class="l" cx="905.4" cy="486.5" rx="2.2" ry="1.1"/>
<path class="l" d="M1073.5 436.6 Q1076.5 434.8 1078.5 437.2 V445"/>
<path class="l" d="M1074.5 433 L1078 437"/>
<path class="l" d="M919.6 498.8 L921 540 Q921.8 547 930 547.4 L938.1 545.4 L1060.5 497.2 Q1066.7 493.5 1067.5 488.2 L1069.5 449"/>
<path class="l" d="M939.2 497.6 V541"/>
<path class="l" d="M904 494.5 L905.2 532 Q906 540.5 911 543 L924 547"/>
<path class="l" d="M859.0 395.8 L1076.0 435.7"/>
<path class="l" d="M862.0 398.5 L1075.0 437.7"/>
<path class="l" d="M866.0 401.5 L1074.0 439.7"/>
<ellipse class="l2" cx="900.1" cy="391.4" rx="1.6" ry="2.1" transform="rotate(20 900.1 391.4)"/>
<ellipse class="l2" cx="903.5" cy="391.9" rx="1.6" ry="2.1" transform="rotate(20 903.5 391.9)"/>
<ellipse class="l2" cx="1039.1000000000001" cy="414.7" rx="1.6" ry="2.1" transform="rotate(20 1039.1000000000001 414.7)"/>
<ellipse class="l2" cx="1042.5" cy="415.2" rx="1.6" ry="2.1" transform="rotate(20 1042.5 415.2)"/>
<path class="l" d="M868.2 398.2 l2 -2.8"/>
<path class="l" d="M880.3 400.5 l2 -2.8"/>
<path class="l" d="M891.9 402.8 l2 -2.8"/>
<path class="l" d="M904.0 405.1 l2 -2.8"/>
<path class="l" d="M926.9 409.5 l2 -2.8"/>
<path class="l" d="M950.0 414.0 l2 -2.8"/>
<path class="l" d="M973.0 418.4 l2 -2.8"/>
<path class="l" d="M996.0 422.9 l2 -2.8"/>
<path class="l" d="M1019.0 427.3 l2 -2.8"/>
<path class="l" d="M1042.0 431.7 l2 -2.8"/>
<path class="r" d="M728.3 437.9 L731.7 437.3 V441.3 L728.3 440.5 Z"/>
<path class="cap" d="M728.3 437.9 L731.7 437.3"/>
<path class="r" d="M737.0 435.9 L740.7 435.3 V443.4 L737.0 442.5 Z"/>
<path class="cap" d="M737.0 435.9 L740.7 435.3"/>
<path class="ws" d="M738.0 437.3 L740.1 441.9"/>
<path class="r" d="M745.7 433.9 L749.7 433.3 V445.5 L745.7 444.5 Z"/>
<path class="cap" d="M745.7 433.9 L749.7 433.3"/>
<path class="ws" d="M746.7 435.3 L749.1 444.0"/>
<path class="r" d="M754.3 431.7 L758.6 431.1 V447.5 L754.3 446.5 Z"/>
<path class="cap" d="M754.3 431.7 L758.6 431.1"/>
<path class="ws" d="M755.3 433.1 L758.0 446.0"/>
<path class="r" d="M763.5 429.7 L767.8 429.1 V449.7 L763.5 448.7 Z"/>
<path class="cap" d="M763.5 429.7 L767.8 429.1"/>
<path class="ws" d="M764.5 431.1 L767.2 448.2"/>
<path class="r" d="M771.7 427.6 L776.3 427.0 V451.7 L771.7 450.6 Z"/>
<path class="cap" d="M771.7 427.6 L776.3 427.0"/>
<path class="ws" d="M772.7 429.0 L775.7 450.2"/>
<path class="r" d="M788.0 423.9 L792.7 423.3 V455.5 L788.0 454.4 Z"/>
<path class="cap" d="M788.0 423.9 L792.7 423.3"/>
<path class="ws" d="M789.0 425.3 L792.1 454.0"/>
<path class="r" d="M797.3 421.9 L801.6 421.3 V457.6 L797.3 456.6 Z"/>
<path class="cap" d="M797.3 421.9 L801.6 421.3"/>
<path class="ws" d="M798.3 423.3 L801.0 456.1"/>
<path class="r" d="M804.7 419.9 L809.0 419.3 V452.5 Q809.5 460.0 816.5 462.0 L813.3 464.6 Q805.0 462.5 804.7 453.5 Z"/>
<path class="cap" d="M804.7 419.9 L809.0 419.3"/>
<path class="ws" d="M805.7 421.3 L808.4 449.5"/>
<path class="ws" d="M806.3 453.5 Q807.2 461.5 814.7 463.4"/>
<path class="r" d="M812.7 417.9 L817.0 417.3 V450.6 Q817.5 458.4 824.5 460.4 L821.3 463.0 Q813.0 460.9 812.7 451.6 Z"/>
<path class="cap" d="M812.7 417.9 L817.0 417.3"/>
<path class="ws" d="M813.7 419.3 L816.4 447.6"/>
<path class="ws" d="M814.3 451.6 Q815.2 459.9 822.7 461.8"/>
<path class="r" d="M820.7 415.9 L825.3 415.3 V448.7 Q825.8 456.8 832.8 458.8 L829.6 461.4 Q821.0 459.3 820.7 449.7 Z"/>
<path class="cap" d="M820.7 415.9 L825.3 415.3"/>
<path class="ws" d="M821.7 417.3 L824.7 445.7"/>
<path class="ws" d="M822.3 449.7 Q823.2 458.3 831.0 460.2"/>
<path class="r" d="M828.3 414.2 L833.0 413.6 V446.8 Q833.5 455.2 840.5 457.2 L837.3 459.8 Q828.6 457.7 828.3 447.8 Z"/>
<path class="cap" d="M828.3 414.2 L833.0 413.6"/>
<path class="ws" d="M829.3 415.6 L832.4 443.8"/>
<path class="ws" d="M829.9 447.8 Q830.8 456.7 838.7 458.6"/>
<path class="r" d="M836.3 412.2 L841.0 411.6 V444.9 Q841.5 453.6 848.5 455.6 L845.3 458.2 Q836.6 456.1 836.3 445.9 Z"/>
<path class="cap" d="M836.3 412.2 L841.0 411.6"/>
<path class="ws" d="M837.3 413.6 L840.4 441.9"/>
<path class="ws" d="M837.9 445.9 Q838.8 455.1 846.7 457.0"/>
<path class="r" d="M869.3 411.7 L873.7 412.4 V446.3 Q873.4 451.3 868.4 457.5 L863.8 456.3 Q868.8 450.3 869.3 445.3 Z"/>
<path class="cap" d="M869.3 411.7 L873.7 412.4"/>
<path class="ws" d="M868.2 449.8 l5 0.9"/>
<path class="ws" d="M866.8 452.9 l5 0.9"/>
<path class="ws" d="M864.7 456.0 l5 0.9"/>
<path class="r" d="M885.3 414.7 L889.7 415.4 V449.7 Q889.4 454.7 884.4 460.9 L879.8 459.7 Q884.8 453.7 885.3 448.7 Z"/>
<path class="cap" d="M885.3 414.7 L889.7 415.4"/>
<path class="ws" d="M884.2 453.2 l5 0.9"/>
<path class="ws" d="M882.8 456.3 l5 0.9"/>
<path class="ws" d="M880.7 459.4 l5 0.9"/>
<path class="r" d="M893.7 416.3 L898.3 417.0 V451.0 Q898.0 456.0 892.8 462.2 L888.2 461.0 Q893.2 455.0 893.7 450.0 Z"/>
<path class="cap" d="M893.7 416.3 L898.3 417.0"/>
<path class="ws" d="M892.6 454.5 l5 0.9"/>
<path class="ws" d="M891.2 457.6 l5 0.9"/>
<path class="ws" d="M889.1 460.7 l5 0.9"/>
<path class="r" d="M902.0 418.0 L906.7 418.7 V453.7 Q906.4 458.7 901.1 464.9 L896.5 463.7 Q901.5 457.7 902.0 452.7 Z"/>
<path class="cap" d="M902.0 418.0 L906.7 418.7"/>
<path class="ws" d="M900.9 457.2 l5 0.9"/>
<path class="ws" d="M899.5 460.3 l5 0.9"/>
<path class="ws" d="M897.4 463.4 l5 0.9"/>
<path class="r" d="M910.7 419.7 L915.3 420.4 V455.7 Q915.0 460.7 909.8 466.9 L905.2 465.7 Q910.2 459.7 910.7 454.7 Z"/>
<path class="cap" d="M910.7 419.7 L915.3 420.4"/>
<path class="ws" d="M909.6 459.2 l5 0.9"/>
<path class="ws" d="M908.2 462.3 l5 0.9"/>
<path class="ws" d="M906.1 465.4 l5 0.9"/>
<path class="r" d="M919.6 421.3 L924.4 422.0 V457.0 Q924.1 462.0 918.7 468.2 L914.1 467.0 Q919.1 461.0 919.6 456.0 Z"/>
<path class="cap" d="M919.6 421.3 L924.4 422.0"/>
<path class="ws" d="M918.5 460.5 l5 0.9"/>
<path class="ws" d="M917.1 463.6 l5 0.9"/>
<path class="ws" d="M915.0 466.7 l5 0.9"/>
<path class="r" d="M928.4 422.7 L932.7 423.4 V459.0 Q932.4 464.0 927.5 470.2 L922.9 469.0 Q927.9 463.0 928.4 458.0 Z"/>
<path class="cap" d="M928.4 422.7 L932.7 423.4"/>
<path class="ws" d="M927.3 462.5 l5 0.9"/>
<path class="ws" d="M925.9 465.6 l5 0.9"/>
<path class="ws" d="M923.8 468.7 l5 0.9"/>
<path class="r" d="M937.3 424.6 L941.7 425.3 V460.3 Q941.4 465.3 936.4 471.5 L931.8 470.3 Q936.8 464.3 937.3 459.3 Z"/>
<path class="cap" d="M937.3 424.6 L941.7 425.3"/>
<path class="ws" d="M936.2 463.8 l5 0.9"/>
<path class="ws" d="M934.8 466.9 l5 0.9"/>
<path class="ws" d="M932.7 470.0 l5 0.9"/>
<path class="r" d="M946.3 426.3 L950.7 427.0 V462.3 Q950.4 467.3 945.4 473.5 L940.8 472.3 Q945.8 466.3 946.3 461.3 Z"/>
<path class="cap" d="M946.3 426.3 L950.7 427.0"/>
<path class="ws" d="M945.2 465.8 l5 0.9"/>
<path class="ws" d="M943.8 468.9 l5 0.9"/>
<path class="ws" d="M941.7 472.0 l5 0.9"/>
<path class="r" d="M955.3 427.7 L959.6 428.4 V463.7 Q959.3 468.7 954.4 474.9 L949.8 473.7 Q954.8 467.7 955.3 462.7 Z"/>
<path class="cap" d="M955.3 427.7 L959.6 428.4"/>
<path class="ws" d="M954.2 467.2 l5 0.9"/>
<path class="ws" d="M952.8 470.3 l5 0.9"/>
<path class="ws" d="M950.7 473.4 l5 0.9"/>
<path class="r" d="M964.7 429.7 L969.3 430.4 V465.0 Q969.0 470.0 963.8 476.2 L959.2 475.0 Q964.2 469.0 964.7 464.0 Z"/>
<path class="cap" d="M964.7 429.7 L969.3 430.4"/>
<path class="ws" d="M963.6 468.5 l5 0.9"/>
<path class="ws" d="M962.2 471.6 l5 0.9"/>
<path class="ws" d="M960.1 474.7 l5 0.9"/>
<path class="r" d="M974.3 431.3 L978.7 432.0 V466.0 Q978.4 471.0 973.4 477.2 L968.8 476.0 Q973.8 470.0 974.3 465.0 Z"/>
<path class="cap" d="M974.3 431.3 L978.7 432.0"/>
<path class="ws" d="M973.2 469.5 l5 0.9"/>
<path class="ws" d="M971.8 472.6 l5 0.9"/>
<path class="ws" d="M969.7 475.7 l5 0.9"/>
<path class="r" d="M983.3 432.7 L988.0 433.4 V465.6 L983.3 467.2 Z"/>
<path class="cap" d="M983.3 432.7 L988.0 433.4"/>
<path class="r" d="M992.0 434.0 L997.3 434.7 V462.4 L992.0 464.2 Z"/>
<path class="cap" d="M992.0 434.0 L997.3 434.7"/>
<path class="r" d="M1003.3 436.0 L1008.0 436.7 V458.8 L1003.3 460.4 Z"/>
<path class="cap" d="M1003.3 436.0 L1008.0 436.7"/>
<path class="r" d="M1013.3 438.0 L1018.0 438.7 V455.4 L1013.3 457.0 Z"/>
<path class="cap" d="M1013.3 438.0 L1018.0 438.7"/>
<path class="r" d="M1023.4 440.0 L1028.4 440.7 V451.9 L1023.4 453.6 Z"/>
<path class="cap" d="M1023.4 440.0 L1028.4 440.7"/>
<path class="r" d="M1043 443.6 L1046.3 444 V446 L1043 447 Z"/>
<path class="l" d="M846.7 402.3 V445 Q847 452 851 455.5 M858.7 400.5 V446 Q859.5 452 864 456.3"/>
<path class="l" d="M848 455.3 L866 450.8 M865 456.2 L900.4 463.2 L975 477.5"/>
<path class="d2" d="M700 413.3 L847 379.3 M692 402 L725 439.5 M835 373.5 L859 397"/>
<path class="d2" d="M771.3 430 L866 450.6"/>
<path class="d2" d="M900.4 413.7 V471 M900.4 413.7 L912.7 411.3 M900.4 471 L913.3 466.7"/>
<text class="tt" transform="translate(763.6,390.8) scale(1.08,1)" font-size="22.5">b</text>
<text class="tt" transform="translate(865.8,467.6) scale(1.1,1)" font-size="21">a</text>
<text class="tt" transform="translate(907.2,451.8) scale(1.0,1)" font-size="22.5">c2</text>
<path class="l" d="M704.3 447.9 L705.2 470 Q706 481 709.5 484.5 L723.7 494.2"/>
<path class="l" d="M709.7 446.5 L711 476.7 L721 482 L723.7 492.7"/>
<path class="l" d="M721.3 452.2 V481.6"/>
<path class="l" d="M727.7 453.3 L729 480.7 L741 487.3 L743.7 496.7"/>
<path class="l" d="M730.3 458.6 L730.9 481.5 M730.3 458.6 L770.3 468.7"/>
<path class="l" d="M742.3 461.8 L743 494"/>
<path class="l" d="M723.7 494.2 Q727 496.5 731 496.2 L743.7 498.8 L763 503.4 L845 523 L905 541"/>
<path class="l" d="M757.7 465.3 L759.5 477 M760.3 466 L762.5 481 L763.6 479.5 L763 466.6 M765.5 467.3 L767.5 484 L768.7 482.5 L768 468"/>
<path class="l" d="M769 458 V467.6 M780.3 459 V466.2"/>
<path class="l" d="M770.4 467.8 Q770.3 467.3 770.8 467.2 L781.2 466.1 Q781.7 466.0 781.8 466.5 L783.6 482.2 Q783.7 482.7 783.2 482.6 L772.2 480.1 Q771.7 480.0 771.6 479.5 Z"/>
<ellipse class="l" cx="775.7" cy="474.7" rx="0.9" ry="1.2"/>
<path class="l" d="M780.3 458.7 L819 468.7 L818.3 475"/>
<ellipse class="l" cx="803" cy="482" rx="7.3" ry="9.8" transform="rotate(-8 803 482)"/>
<path class="l" d="M805.5 472.4 Q817 473 818.6 484 Q818.6 493.5 810 493.8 L804.5 491.7"/>
<path class="l" d="M807.5 473.5 Q815 475 816.3 484.5 Q816 491 811 492.3"/>
<path class="l" d="M793 470 L797.2 476.2 M795.6 470.6 L799 475"/>
<path class="l" d="M763 480.7 L765 496.7 Q767 506.3 778.3 508.9 L829 521.3 Q836 522.5 839.5 516 Q842 509 842.7 498.6"/>
<path class="l" d="M769 482 L771.7 494 Q773.5 500.8 781 502.5 L819.7 511.4"/>
<path class="l" d="M777 483.3 L778.3 490 Q779.5 493.8 783.7 494.4 L823.7 503.4"/>
<path class="l" d="M823.7 503.4 Q825.5 507 822 511.6 L819.7 511.4"/>
<path class="l" d="M783.0 494.2 q-3.2 3.5 -2.3 8.4"/>
<path class="l" d="M786.5 495.0 q-3.2 3.5 -2.3 8.4"/>
<path class="l" d="M790.0 495.8 q-3.2 3.5 -2.3 8.4"/>
<path class="l" d="M793.5 496.6 q-3.2 3.5 -2.3 8.4"/>
<path class="l" d="M797.0 497.4 q-3.2 3.5 -2.3 8.4"/>
<path class="l" d="M800.5 498.2 q-3.2 3.5 -2.3 8.4"/>
<path class="l" d="M804.0 499.0 q-3.2 3.5 -2.3 8.4"/>
<path class="l" d="M807.5 499.8 q-3.2 3.5 -2.3 8.4"/>
<path class="l" d="M811.0 500.5 q-3.2 3.5 -2.3 8.4"/>
<path class="l" d="M814.5 501.3 q-3.2 3.5 -2.3 8.4"/>
<path class="l" d="M818.0 502.1 q-3.2 3.5 -2.3 8.4"/>
<path class="l" d="M833.3 483.3 L834.7 500.7 Q833.5 509 824.5 512.5"/>
<path class="l" d="M820.7 480 L822.5 492 M823.5 480.7 L825.5 496 L826.6 494.6 L826.3 481.3 M829 482 L831 498.5 L832 497 L831.5 482.6"/>
<path class="l" d="M836.0 484.5 Q836.0 484.0 836.5 484.1 L846.2 486.6 Q846.7 486.7 846.7 487.2 L847.3 498.2 Q847.3 498.7 846.8 498.5 L837.2 494.9 Q836.7 494.7 836.7 494.2 Z"/>
<ellipse class="l" cx="840" cy="489.6" rx="0.9" ry="1.2"/>
<path class="l" d="M869.3 480.7 L866.7 490 L868 514 L878.7 522 L882.7 535.3"/>
<path class="l" d="M874.3 478.8 V487.3 L888.7 490 V486 L893.3 483.4"/>
<path class="l" d="M889.3 487.3 L892 522 L902.7 528.7 L905.3 540.7"/>
<path class="l" d="M880.6 489 L881.3 522.7 M893.3 490 L894 520.7 M903.3 494 L905.3 530"/>
<!-- table -->
<g class="tb">
<path d="M699.5 697V607.5H1197.5"/>
<path d="M837.5 607.5V697M1017.5 607.5V697"/>
<path d="M837.5 634.5H1197.5"/>
<path d="M699.5 660.5H1197.5"/>
<path d="M882.5 634.5V697M927.5 634.5V697M972.5 634.5V697M1062.5 634.5V697M1107.5 634.5V697M1152.5 634.5V697"/>
</g>
<g class="t">
<text transform="translate(770.4,638.2) scale(1.06,1)" font-size="18.3" text-anchor="middle" stroke="#111" stroke-width="0.25">Модель</text>
<text transform="translate(770.5,686.2) scale(1.02,1)" font-size="18.3" text-anchor="middle" stroke="#111" stroke-width="0.25">WR-21</text>
<text transform="translate(926,626.8) scale(1.18,1)" font-size="16.3" text-anchor="middle" stroke="#111" stroke-width="0.25">Внешн. размеры</text>
<text transform="translate(1100.5,626.8) scale(1.18,1)" font-size="16.3" text-anchor="middle" stroke="#111" stroke-width="0.25">Внутр. размеры</text>
<text transform="translate(860,653.6) scale(1.2,1)" font-size="16.5" text-anchor="middle" stroke="#111" stroke-width="0.25">A</text>
<text transform="translate(903.6,653.6) scale(1.08,1)" font-size="16.5" text-anchor="middle" stroke="#111" stroke-width="0.25">B</text>
<text transform="translate(950,653.6) scale(1.1,1)" font-size="16.5" text-anchor="middle" stroke="#111" stroke-width="0.25">C1</text>
<text transform="translate(995.3,653.6) scale(1.12,1)" font-size="16.5" text-anchor="middle" stroke="#111" stroke-width="0.25">C2</text>
<text transform="translate(1037.8,653.6) scale(1.18,1)" font-size="16.5" text-anchor="middle" stroke="#111" stroke-width="0.25">a</text>
<text transform="translate(1082.8,653.6) scale(1.2,1)" font-size="16.5" text-anchor="middle" stroke="#111" stroke-width="0.25">b</text>
<text transform="translate(1128.2,653.6) scale(1.09,1)" font-size="16.5" text-anchor="middle" stroke="#111" stroke-width="0.25">c1</text>
<text transform="translate(1173.7,653.6) scale(1.13,1)" font-size="16.5" text-anchor="middle" stroke="#111" stroke-width="0.25">c2</text>
<text transform="translate(861.5,685.2) scale(1.12,1)" font-size="13.6" text-anchor="middle" stroke="#111" stroke-width="0.4">515</text>
<text transform="translate(905,685.2) scale(1.12,1)" font-size="13.6" text-anchor="middle" stroke="#111" stroke-width="0.4">415</text>
<text transform="translate(951,685.2) scale(1.12,1)" font-size="13.6" text-anchor="middle" stroke="#111" stroke-width="0.4">52</text>
<text transform="translate(994.9,685.2) scale(1.12,1)" font-size="13.6" text-anchor="middle" stroke="#111" stroke-width="0.4">113</text>
<text transform="translate(1041.6,685.2) scale(1.12,1)" font-size="13.6" text-anchor="middle" stroke="#111" stroke-width="0.4">485</text>
<text transform="translate(1084.4,685.2) scale(1.12,1)" font-size="13.6" text-anchor="middle" stroke="#111" stroke-width="0.4">355</text>
<text transform="translate(1130.2,685.2) scale(1.12,1)" font-size="13.6" text-anchor="middle" stroke="#111" stroke-width="0.4">45</text>
<text transform="translate(1175,685.2) scale(1.12,1)" font-size="13.6" text-anchor="middle" stroke="#111" stroke-width="0.4">100</text>
</g>
</svg>
</body></html>
